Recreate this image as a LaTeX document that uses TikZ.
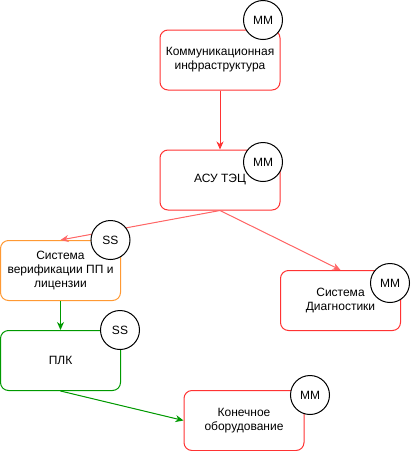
\documentclass[tikz,border=0pt]{standalone}
\usepackage{fontspec}
\setmainfont{Liberation Sans}
\usetikzlibrary{arrows.meta}
\definecolor{bred}{HTML}{FF3333}
\definecolor{lred}{HTML}{FF6666}
\definecolor{borange}{HTML}{FF9933}
\definecolor{bgreen}{HTML}{009900}
\begin{document}
\begin{tikzpicture}[x=1pt,y=-1pt,
  box/.style={draw, line width=1pt, rounded corners=8pt, minimum width=120pt, minimum height=60pt, inner sep=2pt, align=center, font=\fontsize{12pt}{14pt}\selectfont, fill=white},
  badge/.style={draw=black, line width=1pt, circle, fill=white, minimum size=39pt, inner sep=0pt, font=\fontsize{12pt}{14pt}\selectfont},
  arr/.style={line width=1pt, -{Stealth[length=8pt,width=7pt,inset=2.5pt]}}]
\useasboundingbox (0,0) rectangle (411,451);
\node[box, draw=bred] (b1) at (220,60) {Коммуникационная\\инфраструктура};
\node[box, draw=bred] (b2) at (220,180) {АСУ ТЭЦ};
\node[box, draw=borange] (b3) at (60.5,270.5) {Система\\верификации ПП и\\лицензии};
\node[box, draw=bred] (b4) at (340.5,300.5) {Система\\Диагностики};
\node[box, draw=bgreen] (b5) at (60.5,360.5) {ПЛК};
\node[box, draw=bred] (b6) at (244,420.5) {Конечное\\оборудование};
\draw[arr, draw=bred, fill=bred] (b1.south) -- (b2.north);
\draw[arr, draw=lred, fill=lred] (b2.south) -- (b3.north);
\draw[arr, draw=lred, fill=lred] (b2.south) -- (b4.north);
\draw[arr, draw=bgreen, fill=bgreen] (b3.south) -- (b5.north);
\draw[arr, draw=bgreen, fill=bgreen] (b5.south) -- (b6.west);
\node[badge] (c1) at (263,20) {MM};
\node[badge] (c2) at (263,162) {MM};
\node[badge] (c3) at (110.5,240) {SS};
\node[badge] (c4) at (390,283) {MM};
\node[badge] (c5) at (120,330) {SS};
\node[badge] (c6) at (310,395) {MM};
\end{tikzpicture}
\end{document}
